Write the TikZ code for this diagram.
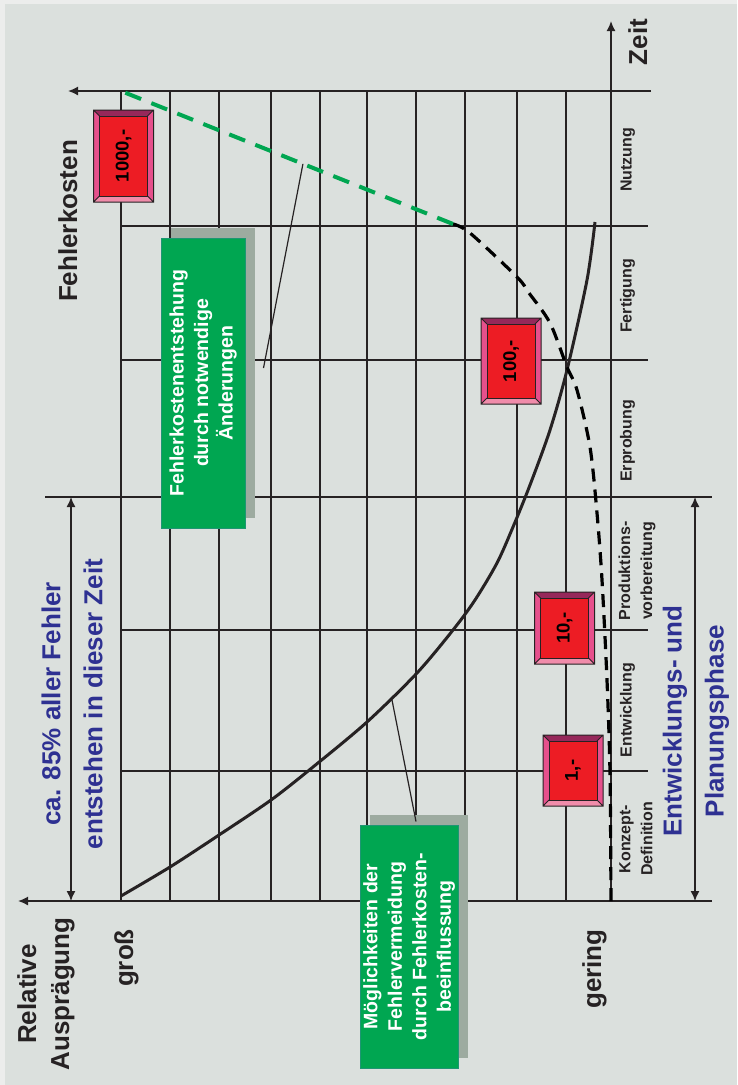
\documentclass[tikz,border=0pt]{standalone}
\usepackage{fontspec}
\setmainfont{Liberation Sans}
\usepackage{xcolor}
\definecolor{hintergrund}{RGB}{219,224,221}
\definecolor{rand}{RGB}{236,237,236}
\definecolor{linie}{RGB}{38,34,35}
\definecolor{blau}{RGB}{46,49,146}
\definecolor{gruen}{RGB}{0,166,81}
\definecolor{gruenrand}{RGB}{30,150,115}
\definecolor{schattengrau}{RGB}{157,171,160}
\definecolor{kostrot}{RGB}{237,28,36}
\definecolor{bevoben}{RGB}{150,40,90}
\definecolor{bevseite}{RGB}{230,80,140}
\definecolor{bevunten}{RGB}{240,140,170}
\usepackage{tikz}
\usetikzlibrary{arrows.meta,calc}

% beveled cost box: name, x, y, half height, label
\newcommand{\kostenbox}[5]{%
  \begin{scope}[shift={(#2,#3)}]
    \fill[bevoben] (-30,-#4) -- (30,-#4) -- (24,6-#4) -- (-24,6-#4) -- cycle;
    \fill[bevunten] (-30,#4) -- (30,#4) -- (24,#4-6) -- (-24,#4-6) -- cycle;
    \fill[bevseite] (-30,-#4) -- (-24,6-#4) -- (-24,#4-6) -- (-30,#4) -- cycle;
    \fill[bevseite] (30,-#4) -- (24,6-#4) -- (24,#4-6) -- (30,#4) -- cycle;
    \node[kostenfeld, minimum width={2*#4-12}, minimum height=48] (#1) at (0,0) {#5};
    \draw[linie, line width=1pt] (-30,-#4) rectangle (30,#4)
      (-30,-#4) -- (-24,6-#4) (30,-#4) -- (24,6-#4)
      (-30,#4) -- (-24,#4-6) (30,#4) -- (24,#4-6);
  \end{scope}}

\begin{document}
\begin{tikzpicture}[
  x=1pt, y=-1pt,
  gitter/.style={draw=linie, line width=1.4pt},
  achse/.style={draw=linie, line width=1.6pt, -{Latex[length=10pt,width=9pt]}},
  doppelpfeil/.style={draw=linie, line width=1.4pt, {Latex[length=10pt,width=9pt]}-{Latex[length=10pt,width=9pt]}},
  vermeidungskurve/.style={draw=linie, line width=3pt},
  kostenkurve/.style={draw=black, line width=3.2pt, dash pattern=on 13pt off 8pt},
  aenderungslinie/.style={draw=gruen, line width=4pt, dash pattern=on 17pt off 11pt},
  zeiger/.style={draw=linie, line width=1.2pt},
  titel/.style={rotate=90, text=linie, font={\fontsize{26}{33}\selectfont\bfseries}, inner sep=0pt},
  phasentext/.style={rotate=90, text=linie, font={\fontsize{16}{22}\selectfont\bfseries}, inner sep=0pt, align=center},
  blautext/.style={rotate=90, text=blau, font={\fontsize{26}{42}\selectfont\bfseries}, inner sep=0pt, align=center},
  hinweis/.style={rotate=90, fill=gruen, draw=gruenrand, line width=1pt, text=white, font={\fontsize{19.5}{24.5}\selectfont\bfseries}, align=center, inner sep=0pt},
  schatten/.style={rotate=90, fill=schattengrau, inner sep=0pt},
  kostenfeld/.style={rotate=90, fill=kostrot, draw=linie, line width=0.8pt, text=black, font={\fontsize{18.5}{20}\selectfont\bfseries}, inner sep=0pt}
]
\useasboundingbox (0,0) rectangle (737,1085);
\fill[hintergrund] (0,0) rectangle (737,1085);
\fill[rand] (0,0) rectangle (737,4);
\fill[rand] (0,0) rectangle (5,1085);

% Grid
\foreach \x in {121,170,219,271,320,367,416,465,517,566}
  \draw[gitter] (\x,91) -- (\x,901);
\foreach \y in {226,360,630,771}
  \draw[gitter] (121,\y) -- (648,\y);
\draw[gitter] (45,497) -- (712,497);

% Axes
\draw[achse] (611,901) -- (611,21);
\draw[achse] (651,91) -- (68,91);
\draw[achse] (712,901) -- (18,901);
\draw[doppelpfeil] (71,497) -- (71,901);
\draw[doppelpfeil] (695,497) -- (695,901);

% Curves
\draw[vermeidungskurve] plot[smooth] coordinates {(121,896) (170,867) (219,835) (271,800) (313,767) (367,722) (417,673) (453,630) (475,600) (497,563) (513,527) (530,485) (550,430) (567,370) (587,280) (595,222)};
\draw[kostenkurve] plot[smooth] coordinates {(611,901) (610,773) (607,680) (602,580) (597,513) (590,447) (577,390) (567,367) (550,323) (529,293) (517,277) (470,233) (453,224)};
\coordinate (knick) at (453,224);
\coordinate (spitze) at (121,91);
\draw[aenderungslinie] (knick) -- (spitze);

% Green notes
\node[schatten, minimum width=290, minimum height=84] (schatten1) at (212.5,373) {};
\node[hinweis, minimum width=290, minimum height=84] (entstehung) at (203,383) {Fehlerkostenentstehung\\durch notwendige\\Änderungen};
\node[schatten, minimum width=243, minimum height=98] (schatten2) at (418.5,936.5) {};
\node[hinweis, minimum width=243, minimum height=98] (moeglichkeit) at (409,946.5) {Möglichkeiten der\\Fehlervermeidung\\durch Fehlerkosten-\\beeinflussung};

\coordinate (z1) at ($(knick)!0.452!(spitze)$);
\coordinate (m1) at (392,700);
\draw[zeiger] ([shift={(18,-15)}]entstehung.south) -- (z1);
\draw[zeiger] ([shift={(7,-3)}]moeglichkeit.east) -- (m1);

% Cost boxes
\kostenbox{k1000}{123.5}{156}{46}{1000,-}
\kostenbox{k100}{511}{361}{43}{100,-}
\kostenbox{k10}{564.5}{628}{36}{10,-}
\kostenbox{k1}{573}{770.5}{35.5}{1,-}

% Labels
\node[titel, anchor=base] (zeit) at (647,42) {Zeit};
\node[titel, anchor=base] (fehlerkosten) at (77,221) {Fehlerkosten};
\node[titel, align=center] (auspraegung) at (46,994) {Relative\\Ausprägung};
\node[titel, anchor=base] (gross) at (133,958) {groß};
\node[titel, anchor=base] (gering) at (601,969) {gering};

\node[phasentext, anchor=base] (nutzung) at (631.5,160) {Nutzung};
\node[phasentext, anchor=base] (fertigung) at (631.5,296) {Fertigung};
\node[phasentext, anchor=base] (erprobung) at (631.5,441) {Erprobung};
\node[phasentext] (prodvor) at (637,571) {Produktions-\\vorbereitung};
\node[phasentext, anchor=base] (entwicklung) at (631.5,710) {Entwicklung};
\node[phasentext] (konzept) at (636,839) {Konzept-\\Definition};

\node[blautext] (fehleranteil) at (72,704) {ca. 85\% aller Fehler\\entstehen in dieser Zeit};
\node[blautext] (planung) at (696,721) {Entwicklungs- und\\Planungsphase};

\end{tikzpicture}
\end{document}
